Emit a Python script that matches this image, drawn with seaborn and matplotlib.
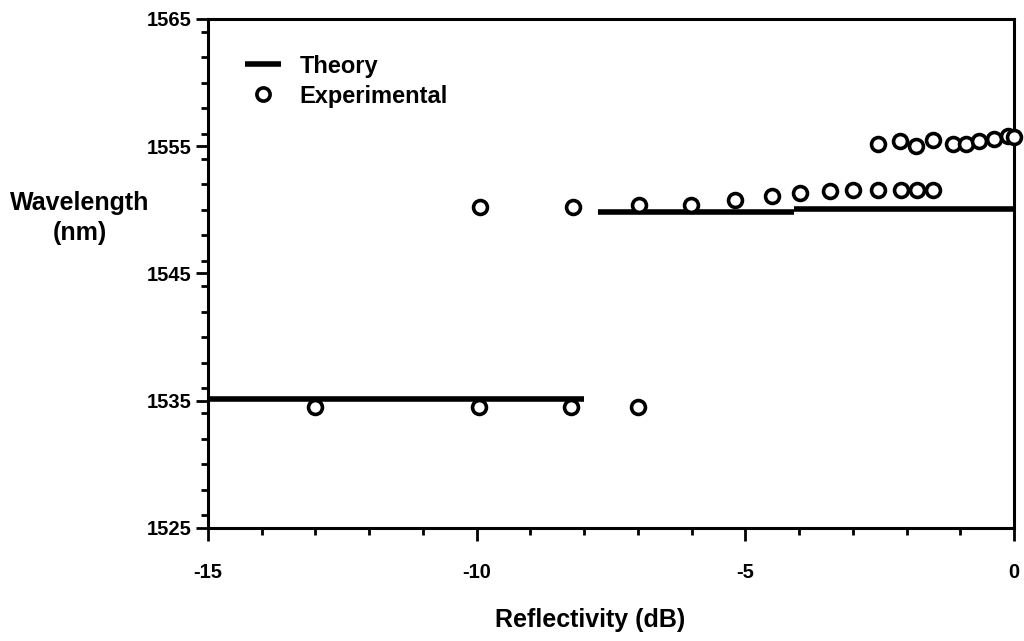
import matplotlib
matplotlib.use("Agg")
import matplotlib.pyplot as plt
from matplotlib.lines import Line2D
from matplotlib.ticker import MultipleLocator
import numpy as np
import pandas as pd
import seaborn as sns

# Theory: piecewise-constant design wavelength per reflectivity band
theory_x_start = [-15.0, -7.75, -4.1]
theory_x_end = [-8.0, -4.1, 0.0]
theory_y = [1535.1, 1549.8, 1550.1]

# Experimental measurements
exp_x = [-13.0, -9.95, -8.25, -7.0,
         -9.93, -8.2, -6.97, -6.02, -5.2, -4.5, -3.98, -3.42, -2.99, -2.54, -2.11, -1.8, -1.5,
         -2.54, -2.13, -1.83, -1.5, -1.13, -0.9, -0.66, -0.38, -0.12, 0.0]
exp_y = [1534.5, 1534.5, 1534.5, 1534.5,
         1550.2, 1550.2, 1550.4, 1550.4, 1550.8, 1551.1, 1551.3, 1551.5, 1551.6, 1551.6, 1551.6, 1551.6, 1551.6,
         1555.2, 1555.4, 1555.0, 1555.5, 1555.2, 1555.2, 1555.4, 1555.6, 1555.8, 1555.7]

x_ticks = [-15, -10, -5, 0]
y_ticks = [1525, 1535, 1545, 1555, 1565]

sns.set_theme(style="ticks")
plt.rcParams["font.family"] = ["Liberation Sans", "DejaVu Sans"]
plt.rcParams["axes.unicode_minus"] = False
plt.rcParams["text.color"] = "black"
plt.rcParams["axes.labelcolor"] = "black"

theory_df = pd.DataFrame({
    "x": [v for a, b in zip(theory_x_start, theory_x_end) for v in (a, b)],
    "y": [v for y in theory_y for v in (y, y)],
    "segment": [i for i in range(len(theory_y)) for _ in (0, 1)],
})
exp_df = pd.DataFrame({"x": exp_x, "y": exp_y})

fig = plt.figure(figsize=(10.24, 6.41), dpi=100)
ax = fig.add_axes([208 / 1024, 1 - 528 / 641, (1014 - 208) / 1024, (528 - 19) / 641])

sns.lineplot(data=theory_df, x="x", y="y", units="segment", estimator=None,
             color="black", linewidth=4.0, solid_capstyle="butt", ax=ax, legend=False)
sns.scatterplot(data=exp_df, x="x", y="y", marker="o", s=100, facecolor="white",
                edgecolor="black", linewidth=2.6, ax=ax, legend=False, clip_on=False, zorder=3)

ax.set_xlim(-15, 0)
ax.set_ylim(1525, 1565)
ax.set_xticks(x_ticks)
ax.set_yticks(y_ticks)
ax.xaxis.set_minor_locator(MultipleLocator(1))
ax.yaxis.set_minor_locator(MultipleLocator(2))
ax.tick_params(axis="both", which="major", direction="out", length=9, width=2.0,
               color="black", labelsize=14.5, labelcolor="black")
ax.tick_params(axis="x", which="major", pad=16)
ax.tick_params(axis="y", which="major", pad=3)
ax.tick_params(axis="both", which="minor", direction="out", length=5, width=2.0, color="black")
for lab in ax.get_xticklabels() + ax.get_yticklabels():
    lab.set_fontweight("bold")

for side in ["left", "right", "top", "bottom"]:
    ax.spines[side].set_visible(True)
    ax.spines[side].set_color("black")
    ax.spines[side].set_linewidth(2.2)

ax.set_xlabel("Reflectivity (dB)", fontsize=18, fontweight="bold", color="black")
ax.xaxis.set_label_coords((590 - 208) / 806, -(620 - 528) / 509)
ax.xaxis.label.set_va("center")
ax.set_ylabel("Wavelength\n(nm)", fontsize=18, fontweight="bold", color="black",
              rotation=0, ha="center", va="center", linespacing=1.3)
ax.yaxis.set_label_coords((80 - 208) / 806, 1 - (218 - 19) / 509)

handles = [
    Line2D([], [], color="black", linewidth=4.0, solid_capstyle="butt"),
    Line2D([], [], color="black", marker="o", linestyle="none", markersize=9.5,
           markerfacecolor="white", markeredgewidth=2.6),
]
leg = ax.legend(handles, ["Theory", "Experimental"], loc="upper left",
                bbox_to_anchor=(0.02, 0.972), frameon=False, handlelength=1.5,
                handletextpad=0.8, labelspacing=0.3,
                prop={"family": "Liberation Sans", "weight": "bold", "size": 17})
for t in leg.get_texts():
    t.set_color("black")

fig.savefig("out.png", dpi=100, facecolor="white")
